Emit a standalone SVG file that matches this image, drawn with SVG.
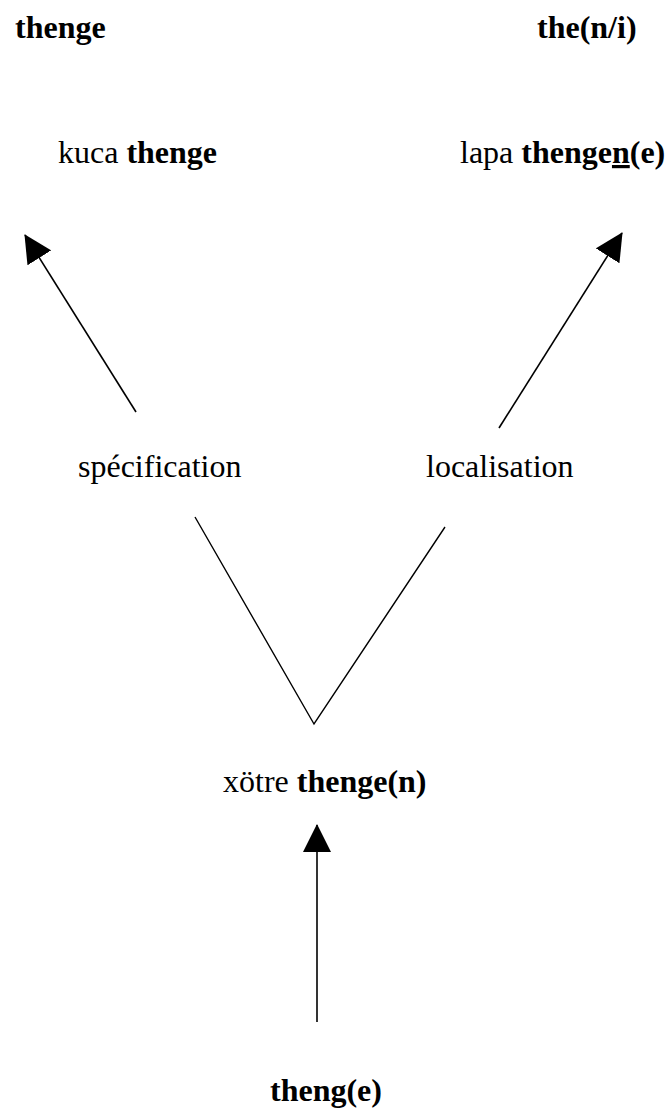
<svg xmlns="http://www.w3.org/2000/svg" width="669" height="1113" viewBox="0 0 669 1113">
<style>
text{font-family:"Liberation Serif","Times New Roman",serif;font-size:32px;fill:#000}
.b{font-weight:bold}
.ln{stroke:#000;stroke-width:1.6;fill:none}
</style>
<defs>
<marker id="ah" markerUnits="userSpaceOnUse" markerWidth="28" markerHeight="28" viewBox="0 0 28 28" refX="27" refY="14" orient="auto">
<path d="M0,0 L28,14 L0,28 Z" fill="#000"/>
</marker>
</defs>
<rect width="669" height="1113" fill="#fff"/>
<g id="n-thenge"><text x="15" y="38" class="b">thenge</text></g>
<g id="n-then-i"><text x="537" y="38" class="b">the(n/i)</text></g>
<g id="n-kuca"><text x="58" y="163">kuca <tspan class="b">thenge</tspan></text></g>
<g id="n-lapa"><text x="460" y="163">lapa <tspan class="b">thenge<tspan text-decoration="underline">n</tspan>(e)</tspan></text></g>
<g id="n-spec"><text x="78" y="477">spécification</text></g>
<g id="n-loc"><text x="426" y="477">localisation</text></g>
<g id="n-xotre"><text x="223" y="792">xötre <tspan class="b">thenge(n)</tspan></text></g>
<g id="n-theng"><text x="270" y="1101" class="b">theng(e)</text></g>
<g id="connectors">
<line class="ln" x1="136" y1="412" x2="25" y2="235" marker-end="url(#ah)"/>
<line class="ln" x1="499" y1="428" x2="622" y2="233" marker-end="url(#ah)"/>
<line class="ln" x1="317" y1="1022" x2="317" y2="825" marker-end="url(#ah)"/>
<polyline class="ln" points="195,517 314,724 445,527" style="stroke-width:1.4"/>
</g>
</svg>
